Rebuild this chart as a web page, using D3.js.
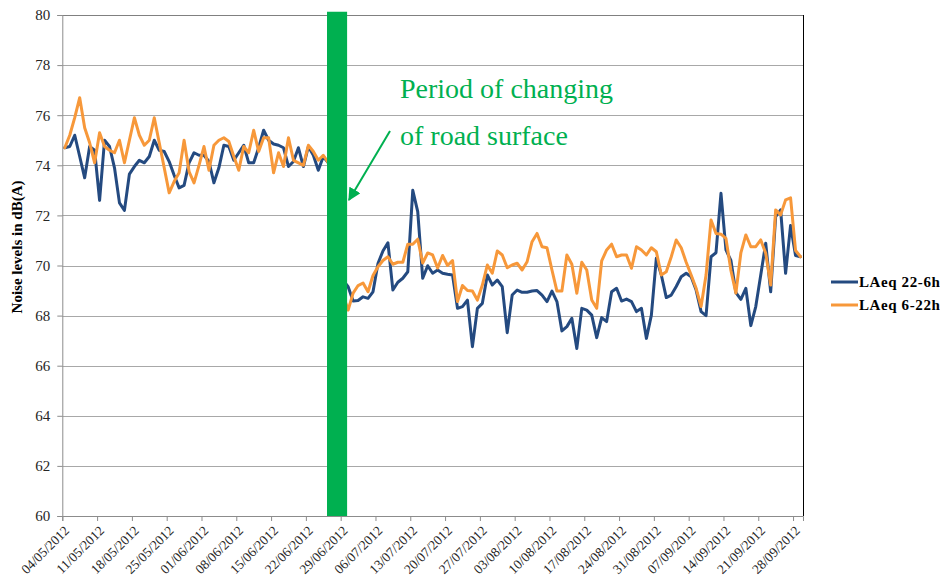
<!DOCTYPE html>
<html><head><meta charset="utf-8">
<script src="https://cdn.jsdelivr.net/npm/d3@7"></script>
<style>
body{margin:0;background:#fff}
svg{display:block}
text{font-family:"Liberation Serif","Times New Roman",serif}
</style>
</head><body>
<svg id="chart" width="940" height="578"></svg>
<script>
// ---- data ----
const startDate = "2012-05-04";   // first daily value
const endDate = "2012-09-30";     // end of the date axis
const seriesNames = ["LAeq 22-6h", "LAeq 6-22h"];
// LAeq 22-6h, one value per day from 04/05/2012 (null = hidden / no data)
const laeqNight = [
 74.7, 74.75, 75.2, 74.35, 73.5, 74.75, 74.6, 72.6, 75.0, 74.75,
 73.9, 72.5, 72.2, 73.65, 73.95, 74.2, 74.1, 74.35, 75.0, 74.6,
 74.55, 74.15, 73.6, 73.1, 73.2, 74.1, 74.5, 74.4, 74.4, 74.15,
 73.3, 73.9, 74.8, 74.75, 74.2, 74.5, 74.8, 74.1, 74.1, 74.7,
 75.4, 75.0, 74.85, 74.8, 74.7, 73.95, 74.15, 74.7, 73.95, 74.75,
 74.4, 73.8, 74.35, 74.1, null, null, 69.4, 69.15, 68.58, 68.6,
 68.75, 68.69, 68.95, 70.08, 70.58, 70.91, 69.02, 69.33, 69.49, 69.75,
 73.0, 72.15, 69.49, 69.99, 69.69, 69.82, 69.69, 69.65, 69.62, 68.29,
 68.36, 68.62, 66.76, 68.29, 68.49, 69.62, 69.22, 69.42, 69.16, 67.32,
 68.82, 69.02, 68.93, 68.93, 68.98, 69.0, 68.82, 68.56, 68.98, 68.56,
 67.39, 67.56, 67.89, 66.69, 68.29, 68.22, 68.02, 67.12, 67.92, 67.76,
 68.95, 69.09, 68.58, 68.66, 68.56, 68.16, 68.29, 67.09, 68.02, 70.29,
 69.62, 68.72, 68.82, 69.16, 69.55, 69.69, 69.55, 69.02, 68.16, 68.0,
 70.35, 70.51, 72.88, 70.62, 70.2, 68.92, 68.65, 69.09, 67.6, 68.36,
 69.62, 70.89, 68.95, 71.95, 72.22, 69.69, 71.6, 70.4, 70.35
];
// LAeq 6-22h, one value per day from 04/05/2012
const laeqDay = [
 74.7, 75.2, 75.9, 76.7, 75.5, 74.9, 74.1, 75.3, 74.75, 74.6,
 74.5, 75.0, 74.1, 75.0, 75.9, 75.2, 74.8, 75.0, 75.9, 74.9,
 73.9, 72.9, 73.35, 73.7, 75.0, 73.75, 73.3, 74.0, 74.75, 73.8,
 74.8, 75.0, 75.1, 74.95, 74.35, 73.8, 74.75, 74.5, 75.4, 74.55,
 75.1, 75.1, 73.7, 74.5, 73.95, 75.1, 74.2, 74.1, 74.0, 74.8,
 74.55, 74.2, 74.4, 74.1, null, null, 68.8, 68.22, 68.9, 69.2,
 69.3, 68.95, 69.6, 69.95, 70.2, 70.35, 70.05, 70.13, 70.13, 70.85,
 70.85, 71.05, 70.1, 70.5, 70.42, 69.9, 70.4, 70.0, 70.2, 68.56,
 69.2, 69.0, 68.98, 68.62, 69.22, 70.02, 69.69, 70.58, 70.42, 69.91,
 70.02, 70.09, 69.82, 70.15, 70.95, 71.28, 70.75, 70.71, 69.82, 68.98,
 68.98, 70.42, 70.05, 68.89, 70.13, 69.82, 68.62, 68.29, 70.18, 70.62,
 70.85, 70.35, 70.42, 70.42, 69.89, 70.75, 70.62, 70.42, 70.71, 70.55,
 69.62, 69.75, 70.35, 71.02, 70.71, 70.13, 69.62, 69.09, 68.36, 69.62,
 71.82, 71.28, 71.25, 71.08, 69.8, 68.9, 70.5, 71.22, 70.75, 70.75,
 71.02, 70.49, 69.22, 72.22, 72.02, 72.62, 72.7, 70.6, 70.35
];
const yTicks = [60, 62, 64, 66, 68, 70, 72, 74, 76, 78, 80];
const xTickLabels = ["04/05/2012","11/05/2012","18/05/2012","25/05/2012","01/06/2012",
 "08/06/2012","15/06/2012","22/06/2012","29/06/2012","06/07/2012","13/07/2012",
 "20/07/2012","27/07/2012","03/08/2012","10/08/2012","17/08/2012","24/08/2012",
 "31/08/2012","07/09/2012","14/09/2012","21/09/2012","28/09/2012"];
const changePeriod = ["2012-06-26T06:00:00Z", "2012-06-30T07:00:00Z"];
const annotationLines = ["Period of changing", "of road surface"];
const yTitle = "Noise levels in dB(A)";

// ---- chart ----
const W = 940, H = 578;
const m = {left: 62.3, right: 803, top: 15, bottom: 516};
const colors = ["#244A80", "#F7983A"];
const green = "#00B050";

const svg = d3.select("#chart");
svg.append("rect").attr("width", W).attr("height", H).attr("fill", "#fff");

const parseIso = d3.utcParse("%Y-%m-%d");
const parseLbl = d3.utcParse("%d/%m/%Y");
const t0 = parseIso(startDate), t1 = parseIso(endDate);
const x = d3.scaleUtc().domain([t0, t1]).range([m.left, m.right]);
const y = d3.scaleLinear().domain([60, 80]).range([m.bottom, m.top]);

// gridlines
svg.append("g").selectAll("line").data(yTicks.filter(v => v > 60)).join("line")
  .attr("x1", m.left).attr("x2", m.right)
  .attr("y1", d => Math.round(y(d)) + 0.5).attr("y2", d => Math.round(y(d)) + 0.5)
  .attr("stroke", d => d === 80 ? "#808080" : "#a8a8a8").attr("stroke-width", 1);

// series lines
const dayPos = i => d3.utcHour.offset(d3.utcDay.offset(t0, i), 12);
const series = [laeqNight, laeqDay];
series.forEach((vals, k) => {
  const pts = vals.map((v, i) => ({t: dayPos(i), v}));
  const line = d3.line().defined(d => d.v != null).x(d => x(d.t)).y(d => y(d.v));
  svg.append("path").datum(pts).attr("d", line)
    .attr("fill", "none").attr("stroke", colors[k]).attr("stroke-width", 3)
    .attr("stroke-linejoin", "round").attr("stroke-linecap", "round");
});

// green bar (period of changing road surface)
const b0 = new Date(changePeriod[0]), b1 = new Date(changePeriod[1]);
svg.append("rect").attr("x", x(b0)).attr("width", x(b1) - x(b0))
  .attr("y", y(80.13)).attr("height", y(60) - y(80.13)).attr("fill", green);

// axes
const yAxis = d3.axisLeft(y).tickValues(yTicks).tickSize(5).tickPadding(7).tickFormat(d3.format("d"));
const gy = svg.append("g").attr("transform", `translate(${m.left},0)`).call(yAxis);
gy.select(".domain").attr("stroke", "#8c8c8c");
gy.selectAll(".tick line").attr("stroke", "#8c8c8c");
gy.selectAll("text").attr("font-size", 15).attr("fill", "#262626")
  .style("font-family", '"Liberation Serif", serif');

const xTicks = xTickLabels.map(parseLbl);
const xAxis = d3.axisBottom(x).tickValues(xTicks).tickSize(5).tickFormat(d3.utcFormat("%d/%m/%Y"));
const gx = svg.append("g").attr("transform", `translate(0,${m.bottom})`).call(xAxis);
gx.select(".domain").attr("stroke", "#8c8c8c");
gx.selectAll(".tick line").attr("stroke", "#8c8c8c");
gx.selectAll("text").attr("font-size", 13.5).attr("fill", "#262626")
  .style("font-family", '"Liberation Serif", serif')
  .attr("text-anchor", "end").attr("x", 0).attr("y", 0).attr("dy", "0.35em")
  .attr("transform", "translate(4,12) rotate(-45)");

// right border
svg.append("line").attr("x1", m.right + 0.5).attr("x2", m.right + 0.5)
  .attr("y1", m.top).attr("y2", m.bottom).attr("stroke", "#000").attr("stroke-width", 1);

// y title
svg.append("text").attr("transform", `translate(22,247) rotate(-90)`)
  .attr("text-anchor", "middle").attr("font-size", 15).attr("font-weight", "bold")
  .attr("fill", "#000").text(yTitle);

// annotation
const ann = svg.append("g").attr("fill", green).attr("font-size", 28);
annotationLines.forEach((s, i) => {
  ann.append("text").attr("x", 400).attr("y", 98 + i * 47).text(s);
});
const defs = svg.append("defs");
defs.append("marker").attr("id", "ah").attr("viewBox", "0 0 10 10")
  .attr("refX", 9).attr("refY", 5).attr("markerWidth", 6.5).attr("markerHeight", 6.5)
  .attr("orient", "auto").attr("markerUnits", "strokeWidth")
  .append("path").attr("d", "M0,0L10,5L0,10z").attr("fill", green);
svg.append("line").attr("x1", 390).attr("y1", 131).attr("x2", 349).attr("y2", 200)
  .attr("stroke", green).attr("stroke-width", 2).attr("marker-end", "url(#ah)");

// legend
const lg = svg.append("g");
seriesNames.forEach((n, i) => {
  const ly = 282 + i * 23;
  lg.append("line").attr("x1", 831).attr("x2", 858).attr("y1", ly).attr("y2", ly)
    .attr("stroke", colors[i]).attr("stroke-width", 3);
  lg.append("text").attr("x", 859).attr("y", ly + 5).attr("font-size", 15)
    .attr("font-weight", "bold").attr("letter-spacing", 0.6).attr("fill", "#000").text(n);
});
</script>
</body></html>
